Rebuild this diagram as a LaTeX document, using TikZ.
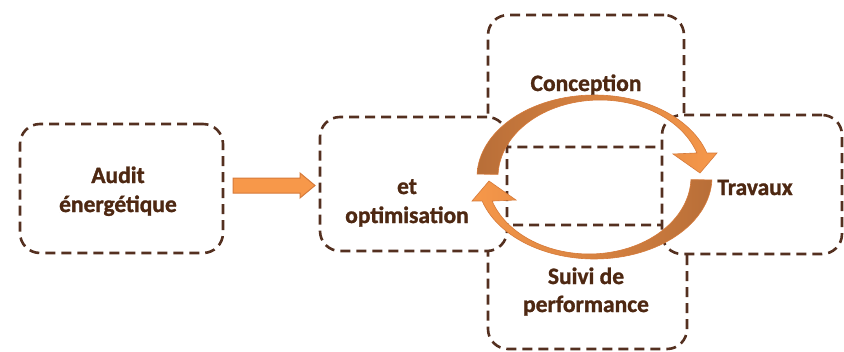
\documentclass[tikz,border=0pt]{standalone}
\usepackage{fontspec}
\setmainfont{Carlito}[BoldFeatures={FakeBold=1.2}]
\definecolor{boxc}{RGB}{84,48,32}
\definecolor{txtc}{RGB}{78,40,18}
\definecolor{arrdark}{RGB}{184,110,56}
\definecolor{arrlight}{RGB}{247,152,74}
\definecolor{arredge}{RGB}{214,122,58}
\tikzset{
 dbox/.style={draw=boxc, line width=2.6pt, dash pattern=on 10pt off 6pt, rounded corners=20pt, fill=white, inner sep=0pt},
 lbl/.style={text=txtc, font=\fontsize{23.5}{29}\selectfont\bfseries, inner sep=0pt, anchor=base},
 ringA/.style={left color=arrdark, right color=arrlight, draw=arredge, line width=0.6pt},
 ringB/.style={left color=arrlight, right color=arrdark, draw=arredge, line width=0.6pt},
 flatarrow/.style={fill=arrlight, draw=arredge, line width=1pt, line join=miter},
}
\begin{document}
\begin{tikzpicture}[x=1pt,y=-1pt]
\useasboundingbox (0,0) rectangle (844,351);
% boxes
\node[dbox, minimum width=203pt, minimum height=129pt] (audit) at (121.5,188.5) {};
\node[dbox, minimum width=196pt, minimum height=132pt] (top) at (586,81) {};
\node[dbox, minimum width=199pt, minimum height=124pt] (bottom) at (587.5,287) {};
\node[dbox, minimum width=187pt, minimum height=134pt] (left) at (413.5,184) {};
\node[dbox, minimum width=180pt, minimum height=139pt] (right) at (752,184.5) {};
% straight arrow
\coordinate (sa) at (233,185);
\path[flatarrow] (sa) ++(0,-7) -- ++(67,0) -- ++(0,-5) -- ++(15,12.5) -- ++(-15,12.5) -- ++(0,-5) -- ++(-67,0) -- cycle;
% circular arrows
\path[ringA] plot[domain=182:343, samples=60] ({594.5+117.5*cos(\x)},{177+82*sin(\x)})
  -- (717,153) -- (700,173) -- (673,154)
  -- plot[domain=341.8:182, samples=60] ({600+102*cos(\x)},{177+77*sin(\x)}) -- cycle;
\path[ringB] plot[domain=2:163, samples=60] ({594.5+117.5*cos(\x)},{177+82*sin(\x)})
  -- (472,201) -- (489,181) -- (516,200)
  -- plot[domain=161.8:2, samples=60] ({589+102*cos(\x)},{177+77*sin(\x)}) -- cycle;
% labels
\node[lbl] (ta1) at (118,183) {Audit};
\node[lbl] (ta2) at (118,212) {énergétique};
\node[lbl] (to1) at (407,194) {et};
\node[lbl] (to2) at (407,223) {optimisation};
\node[lbl] (tc) at (586,91) {Conception};
\node[lbl] (tt) at (755,195) {Travaux};
\node[lbl] (ts1) at (586,284) {Suivi de};
\node[lbl] (ts2) at (586,312) {performance};
\end{tikzpicture}
\end{document}
